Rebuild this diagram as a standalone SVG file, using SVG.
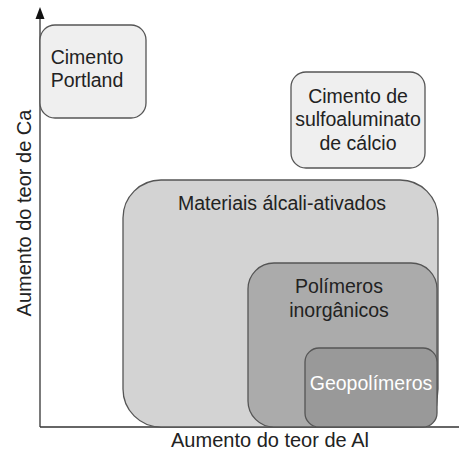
<svg xmlns="http://www.w3.org/2000/svg" width="459" height="458" viewBox="0 0 459 458">
<style>
text{font-family:"Liberation Sans",Arial,sans-serif;font-size:19.5px;fill:#222;text-anchor:middle}
.box{stroke:#555;stroke-width:1.3}
.ax{stroke:#333;stroke-width:1.3;fill:none}
.lab{font-size:20px}
</style>
<rect width="459" height="458" fill="#fff"/>
<g id="connectors">
<line class="ax" x1="40" y1="427" x2="40" y2="16"/>
<polygon points="40,7 35.5,19 44.5,19" fill="#111"/>
<line class="ax" x1="40" y1="427" x2="459" y2="427"/>
</g>
<g id="materiais"><rect class="box" x="123" y="180" width="315" height="247" rx="38" fill="#d3d3d3"/><text x="282" y="210">Materiais álcali-ativados</text></g>
<g id="polimeros"><rect class="box" x="248" y="263" width="189" height="164" rx="26" fill="#ababab"/><text x="339" y="293">Polímeros</text><text x="339" y="317">inorgânicos</text></g>
<g id="geopolimeros"><rect class="box" x="305" y="348" width="132" height="79" rx="14" fill="#999"/><text x="371" y="390" style="fill:#fff">Geopolímeros</text></g>
<g id="portland"><rect class="box" x="40" y="25" width="106" height="93" rx="15" fill="#efefef"/><text x="87" y="64">Cimento</text><text x="87" y="87">Portland</text></g>
<g id="sulfo"><rect class="box" x="291" y="72" width="134" height="96" rx="15" fill="#efefef"/><text x="358" y="103">Cimento de</text><text x="358" y="126">sulfoaluminato</text><text x="358" y="150">de cálcio</text></g>
<g id="xlabel"><text class="lab" x="270" y="447">Aumento do teor de Al</text></g>
<g id="ylabel"><text class="lab" x="0" y="0" transform="translate(31,213) rotate(-90)">Aumento do teor de Ca</text></g>
</svg>
